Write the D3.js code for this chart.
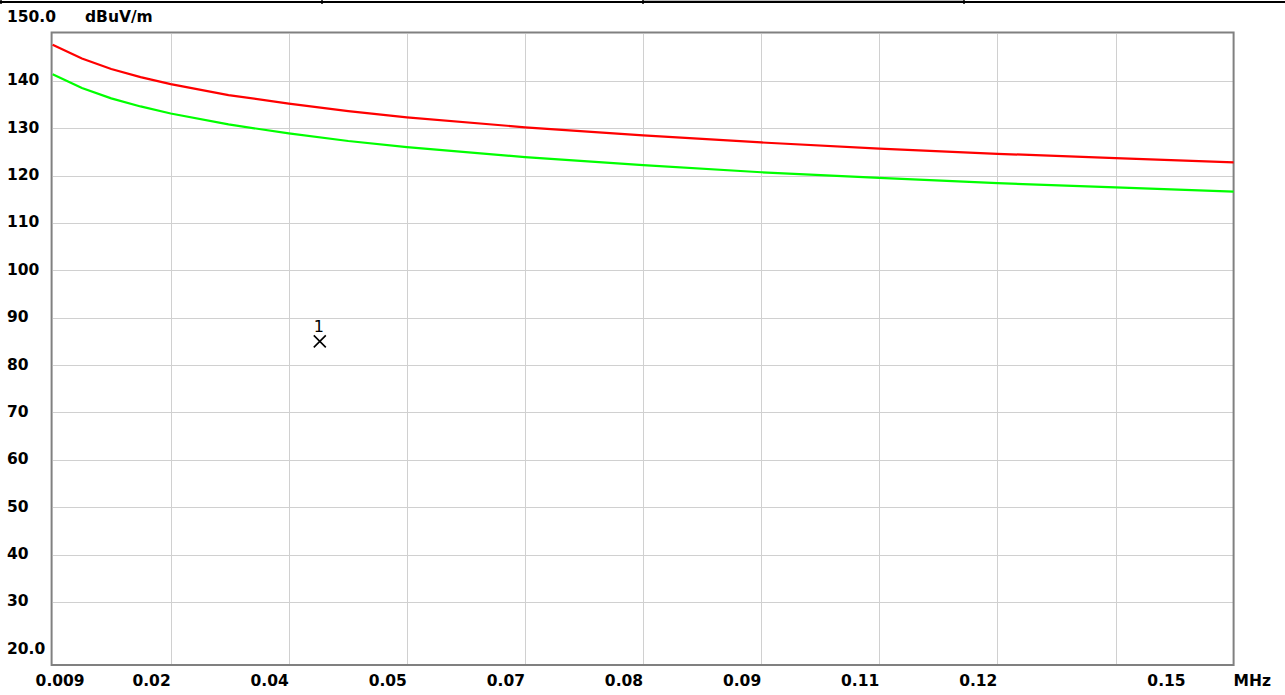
<!DOCTYPE html>
<html lang="en">
<head>
<meta charset="utf-8">
<title>dBuV/m limit plot</title>
<style>
  body { margin: 0; background: #fff; }
  svg text { font-family: "DejaVu Sans", sans-serif; }
</style>
<script src="https://cdn.jsdelivr.net/npm/d3@7"></script>
</head>
<body>
<div id="chart"></div>
<script>
// frequency axis (MHz): 10 equal divisions from 0.009 to 0.15
var fMin = 0.009, fMax = 0.15;
var xTickLabels = ["0.009", "0.02", "0.04", "0.05", "0.07", "0.08", "0.09", "0.11", "0.12", "", "0.15"];
// level axis (dBuV/m)
var yTop = 150, yBottom = 16.67;
var yTicks = [140, 130, 120, 110, 100, 90, 80, 70, 60, 50, 40, 30];

// limit lines
var freq  = [0.009, 0.0125, 0.016, 0.0195, 0.0231, 0.030, 0.0372, 0.0443, 0.0513, 0.0654, 0.0795, 0.0936, 0.1077, 0.1218, 0.1359, 0.150];
var red   = [147.6, 144.7, 142.5, 140.8, 139.3, 137.0, 135.2, 133.6, 132.3, 130.2, 128.5, 127.0, 125.7, 124.6, 123.7, 122.8];
var green = [141.4, 138.5, 136.3, 134.6, 133.1, 130.8, 128.9, 127.3, 126.0, 123.9, 122.2, 120.7, 119.5, 118.4, 117.5, 116.6];

// marker
var markerF = 0.0409, markerLevel = 85.0, markerLabel = "1";

var W = 1285, H = 695;
var pLeft = 52.6, pRight = 1233.6, pTop = 33.5, pBottom = 665;

var svg = d3.select("#chart").append("svg").attr("width", W).attr("height", H);

var x = d3.scaleLinear().domain([fMin, fMax]).range([pLeft, pRight]);
var y = d3.scaleLinear().domain([yBottom, yTop]).range([pBottom, pTop]);
var step = (fMax - fMin) / 10;
var divs = d3.range(0, 11).map(function(i) { return fMin + i * step; });

// status strip at the very top
svg.append("rect").attr("x", 643).attr("y", 0).attr("width", 321).attr("height", 1.5).attr("fill", "#c0c0c0");
svg.append("line").attr("x1", 0).attr("x2", W).attr("y1", 2).attr("y2", 2).attr("stroke", "#000").attr("stroke-width", 2);
svg.selectAll(".sep").data([1, 322, 643, 964]).enter().append("line")
  .attr("x1", function(d) { return d; }).attr("x2", function(d) { return d; })
  .attr("y1", 0).attr("y2", 4).attr("stroke", "#000").attr("stroke-width", 1.5);

// grid
var grid = svg.append("g").attr("stroke", "#d0d0d0").attr("stroke-width", 1).attr("shape-rendering", "crispEdges");
grid.selectAll(".gx").data(divs.slice(1, 10)).enter().append("line")
  .attr("x1", function(d) { return Math.round(x(d)) + 0.5; }).attr("x2", function(d) { return Math.round(x(d)) + 0.5; })
  .attr("y1", pTop).attr("y2", pBottom);
grid.selectAll(".gy").data(yTicks).enter().append("line")
  .attr("x1", pLeft).attr("x2", pRight)
  .attr("y1", function(d) { return Math.round(y(d)) + 0.5; }).attr("y2", function(d) { return Math.round(y(d)) + 0.5; });

// frame
svg.append("rect").attr("x", pLeft - 1).attr("y", pTop - 1).attr("width", pRight - pLeft + 1).attr("height", pBottom - pTop + 1)
  .attr("fill", "none").attr("stroke", "#808080").attr("stroke-width", 2);

// limit lines
var line = d3.line().x(function(d) { return x(d[0]); }).y(function(d) { return y(d[1]); });
[[red, "#ff0000"], [green, "#00ff00"]].forEach(function(s) {
  svg.append("path").datum(d3.zip(freq, s[0])).attr("d", line)
    .attr("fill", "none").attr("stroke", s[1]).attr("stroke-width", 2.2);
});

// marker
var mx = x(markerF), my = y(markerLevel);
svg.append("path").attr("d", "M" + (mx - 6) + "," + (my - 6) + "L" + (mx + 6) + "," + (my + 6) + "M" + (mx + 6) + "," + (my - 6) + "L" + (mx - 6) + "," + (my + 6))
  .attr("stroke", "#000").attr("stroke-width", 1.6);
svg.append("text").attr("x", mx - 1).attr("y", my - 9).attr("text-anchor", "middle")
  .style("font-size", "16px").text(markerLabel);

// labels
var lab = svg.append("g").style("font-size", "15.5px").style("font-weight", "bold").attr("fill", "#000");
lab.append("text").attr("x", 7).attr("y", 21.7).text(yTop.toFixed(1));
lab.append("text").attr("x", 85).attr("y", 21.7).text("dBuV/m");
lab.selectAll(".yl").data(yTicks).enter().append("text")
  .attr("x", 7).attr("y", function(d) { return y(d) + 4.5; }).text(function(d) { return d; });
lab.append("text").attr("x", 7).attr("y", y(20) + 4.5).text("20.0");

lab.selectAll(".xl").data(divs).enter().append("text")
  .attr("x", function(d, i) {
    if (i === 0) return x(d) - 17;
    if (i === 10) return x(d) - 48;
    return x(d);
  })
  .attr("y", 686)
  .attr("text-anchor", function(d, i) { return i === 0 ? "start" : "end"; })
  .text(function(d, i) { return xTickLabels[i]; });
lab.append("text").attr("x", pRight).attr("y", 686).text("MHz");
</script>
</body>
</html>
